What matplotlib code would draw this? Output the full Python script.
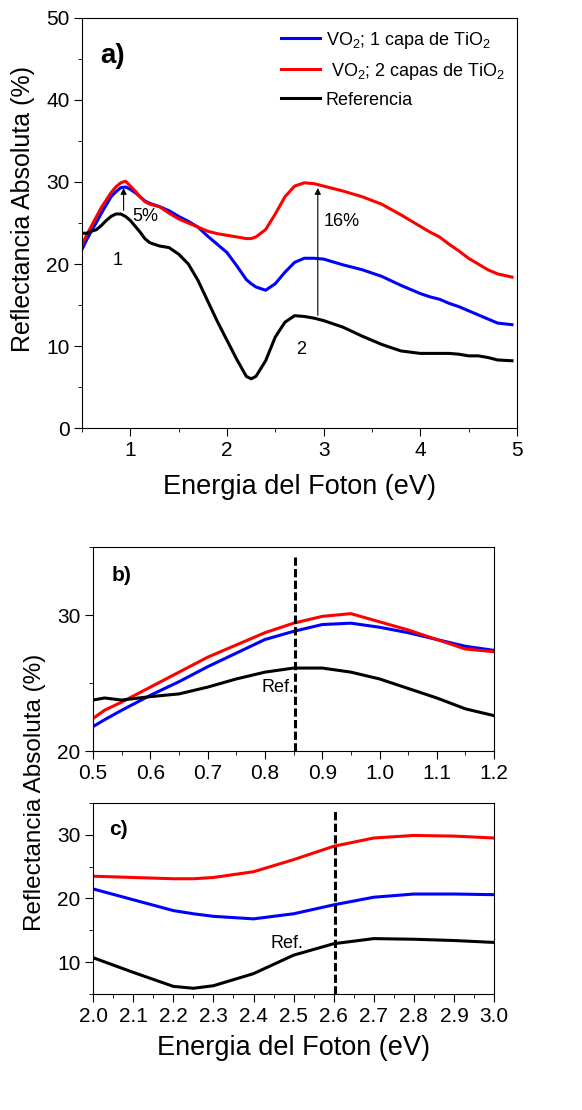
import numpy as np
import matplotlib
matplotlib.use('Agg')
import matplotlib.pyplot as plt
from matplotlib.ticker import MultipleLocator

plt.rcParams['font.family'] = ['Liberation Sans', 'DejaVu Sans']
plt.rcParams['mathtext.fontset'] = 'custom'
plt.rcParams['mathtext.rm'] = 'Liberation Sans'

# data
E_full = [0.5, 0.55, 0.6, 0.65, 0.7, 0.75, 0.8, 0.85, 0.9, 0.95, 1.0, 1.05, 1.1, 1.15, 1.2,
          1.3, 1.4, 1.5, 1.6, 1.7, 1.8, 1.9, 2.0, 2.1, 2.2, 2.25, 2.3, 2.4, 2.5, 2.6, 2.7,
          2.8, 2.9, 3.0, 3.2, 3.4, 3.6, 3.8, 4.0, 4.1, 4.2, 4.3, 4.4, 4.5, 4.6, 4.7, 4.8, 4.95]
ref_full = [23.75, 23.75, 24.0, 24.2, 24.7, 25.3, 25.8, 26.1, 26.1, 25.8, 25.3, 24.6, 23.9, 23.1, 22.6,
            22.2, 22.0, 21.2, 20.0, 18.0, 15.5, 13.0, 10.7, 8.4, 6.3, 6.0, 6.3, 8.2, 11.1, 12.9, 13.7,
            13.6, 13.4, 13.1, 12.3, 11.2, 10.2, 9.4, 9.1, 9.1, 9.1, 9.1, 9.0, 8.8, 8.8, 8.6, 8.3, 8.2]
capa1_full = [21.8, 23.0, 24.1, 25.1, 26.2, 27.2, 28.2, 28.8, 29.3, 29.4, 29.1, 28.7, 28.2, 27.7, 27.4,
              27.0, 26.5, 25.8, 25.2, 24.5, 23.4, 22.4, 21.4, 19.8, 18.1, 17.6, 17.2, 16.8, 17.6, 19.0, 20.2,
              20.7, 20.7, 20.6, 19.9, 19.3, 18.5, 17.4, 16.4, 16.0, 15.7, 15.2, 14.8, 14.3, 13.8, 13.3, 12.8, 12.6]
capa2_full = [22.4, 23.6, 24.7, 25.8, 26.9, 27.8, 28.7, 29.4, 29.9, 30.1, 29.5, 28.9, 28.2, 27.6, 27.3,
              27.0, 26.2, 25.5, 25.0, 24.5, 24.0, 23.7, 23.5, 23.3, 23.1, 23.1, 23.3, 24.2, 26.1, 28.2, 29.5,
              29.9, 29.8, 29.5, 28.9, 28.2, 27.3, 26.0, 24.6, 23.9, 23.3, 22.4, 21.6, 20.7, 20.0, 19.3, 18.8, 18.4]

E_b = [0.5, 0.52, 0.55, 0.6, 0.65, 0.7, 0.75, 0.8, 0.85, 0.9, 0.95, 1.0, 1.05, 1.1, 1.15, 1.2]
ref_b = [23.75, 23.9, 23.75, 24.0, 24.2, 24.7, 25.3, 25.8, 26.1, 26.1, 25.8, 25.3, 24.6, 23.9, 23.1, 22.6]
capa1_b = [21.8, 22.3, 23.0, 24.1, 25.1, 26.2, 27.2, 28.2, 28.8, 29.3, 29.4, 29.1, 28.7, 28.2, 27.7, 27.4]
capa2_b = [22.4, 23.0, 23.6, 24.7, 25.8, 26.9, 27.8, 28.7, 29.4, 29.9, 30.1, 29.5, 28.9, 28.2, 27.5, 27.3]

E_c = [2.0, 2.1, 2.2, 2.25, 2.3, 2.4, 2.5, 2.6, 2.7, 2.8, 2.9, 3.0]
ref_c = [10.7, 8.4, 6.2, 5.9, 6.3, 8.2, 11.1, 12.9, 13.7, 13.6, 13.4, 13.1]
capa1_c = [21.5, 19.8, 18.1, 17.6, 17.2, 16.8, 17.6, 19.0, 20.2, 20.7, 20.7, 20.6]
capa2_c = [23.5, 23.3, 23.1, 23.1, 23.3, 24.2, 26.1, 28.2, 29.5, 29.9, 29.8, 29.5]

labels = ['VO$_2$; 1 capa de TiO$_2$', ' VO$_2$; 2 capas de TiO$_2$', 'Referencia']
colors = ['#0000ff', '#ff0000', 'black']

fig = plt.figure(figsize=(5.82, 11.10), dpi=100)
ax_a = fig.add_axes([0.141, 0.6144, 0.747, 0.3694])
ax_b = fig.add_axes([0.160, 0.3234, 0.689, 0.1838])
ax_c = fig.add_axes([0.160, 0.1045, 0.689, 0.1721])

lw = 2.2
dash = (0, (2.7, 1.1))
for ax in (ax_a, ax_b, ax_c):
    ax.tick_params(which='both', direction='out', top=False, right=False, labelsize=15)
    ax.tick_params(which='major', length=5.5)
    ax.tick_params(which='minor', length=3)

# panel a
ax_a.plot(E_full, capa1_full, color=colors[0], lw=lw, label=labels[0])
ax_a.plot(E_full, capa2_full, color=colors[1], lw=lw, label=labels[1])
ax_a.plot(E_full, ref_full, color=colors[2], lw=lw, label=labels[2])
ax_a.set_xlim(0.5, 5)
ax_a.set_ylim(0, 50)
ax_a.xaxis.set_major_locator(MultipleLocator(1))
ax_a.xaxis.set_minor_locator(MultipleLocator(0.5))
ax_a.yaxis.set_major_locator(MultipleLocator(10))
ax_a.yaxis.set_minor_locator(MultipleLocator(5))
ax_a.set_xlabel('Energia del Foton (eV)', fontsize=19.5, va='center')
ax_a.xaxis.set_label_coords(0.5, -0.144)
ax_a.set_ylabel('Reflectancia Absoluta (%)', fontsize=18, va='center')
ax_a.yaxis.set_label_coords(-0.136, 0.534)
ax_a.legend(loc='upper right', frameon=False, fontsize=13, handlelength=2.2,
            handletextpad=0.3, labelspacing=0.55, borderaxespad=0.25)
ax_a.text(0.69, 45.4, 'a)', fontsize=20, fontweight='bold', va='center')
ax_a.annotate('', xy=(0.93, 29.6), xytext=(0.93, 26.2),
              arrowprops=dict(arrowstyle='-|>', color='black', lw=0.8, mutation_scale=9))
ax_a.annotate('', xy=(2.94, 29.6), xytext=(2.94, 13.4),
              arrowprops=dict(arrowstyle='-|>', color='black', lw=0.8, mutation_scale=9))
ax_a.text(1.02, 25.8, '5%', fontsize=13, va='center')
ax_a.text(3.0, 25.2, '16%', fontsize=13, va='center')
ax_a.text(0.87, 20.4, '1', fontsize=13, va='center', ha='center')
ax_a.text(2.77, 9.6, '2', fontsize=13, va='center', ha='center')

# panel b
ax_b.plot(E_b, capa1_b, color=colors[0], lw=lw)
ax_b.plot(E_b, capa2_b, color=colors[1], lw=lw)
ax_b.plot(E_b, ref_b, color=colors[2], lw=lw)
ax_b.plot([0.853, 0.853], [20, 34.3], color='black', lw=2.2, ls=dash)
ax_b.set_xlim(0.5, 1.2)
ax_b.set_ylim(20, 35)
ax_b.xaxis.set_major_locator(MultipleLocator(0.1))
ax_b.xaxis.set_minor_locator(MultipleLocator(0.05))
ax_b.yaxis.set_major_locator(MultipleLocator(10))
ax_b.yaxis.set_minor_locator(MultipleLocator(5))
ax_b.xaxis.set_major_formatter(plt.FormatStrFormatter('%.1f'))
ax_b.text(0.532, 32.9, 'b)', fontsize=15, fontweight='bold', va='center')
ax_b.text(0.794, 24.7, 'Ref.', fontsize=13, va='center')

# panel c
ax_c.plot(E_c, capa1_c, color=colors[0], lw=lw)
ax_c.plot(E_c, capa2_c, color=colors[1], lw=lw)
ax_c.plot(E_c, ref_c, color=colors[2], lw=lw)
ax_c.plot([2.603, 2.603], [5, 33.7], color='black', lw=2.2, ls=dash)
ax_c.set_xlim(2.0, 3.0)
ax_c.set_ylim(5, 35)
ax_c.xaxis.set_major_locator(MultipleLocator(0.1))
ax_c.xaxis.set_minor_locator(MultipleLocator(0.05))
ax_c.yaxis.set_major_locator(MultipleLocator(10))
ax_c.yaxis.set_minor_locator(MultipleLocator(5))
ax_c.xaxis.set_major_formatter(plt.FormatStrFormatter('%.1f'))
ax_c.text(2.04, 30.8, 'c)', fontsize=15, fontweight='bold', va='center')
ax_c.text(2.443, 13.0, 'Ref.', fontsize=13, va='center')
ax_c.set_xlabel('Energia del Foton (eV)', fontsize=19.5, va='center')
ax_c.xaxis.set_label_coords(0.5, -0.283)

fig.text(35 / 582, 1 - 792 / 1110, 'Reflectancia Absoluta (%)', rotation=90,
         fontsize=17.5, ha='center', va='center')

fig.savefig('out.png', dpi=100)
